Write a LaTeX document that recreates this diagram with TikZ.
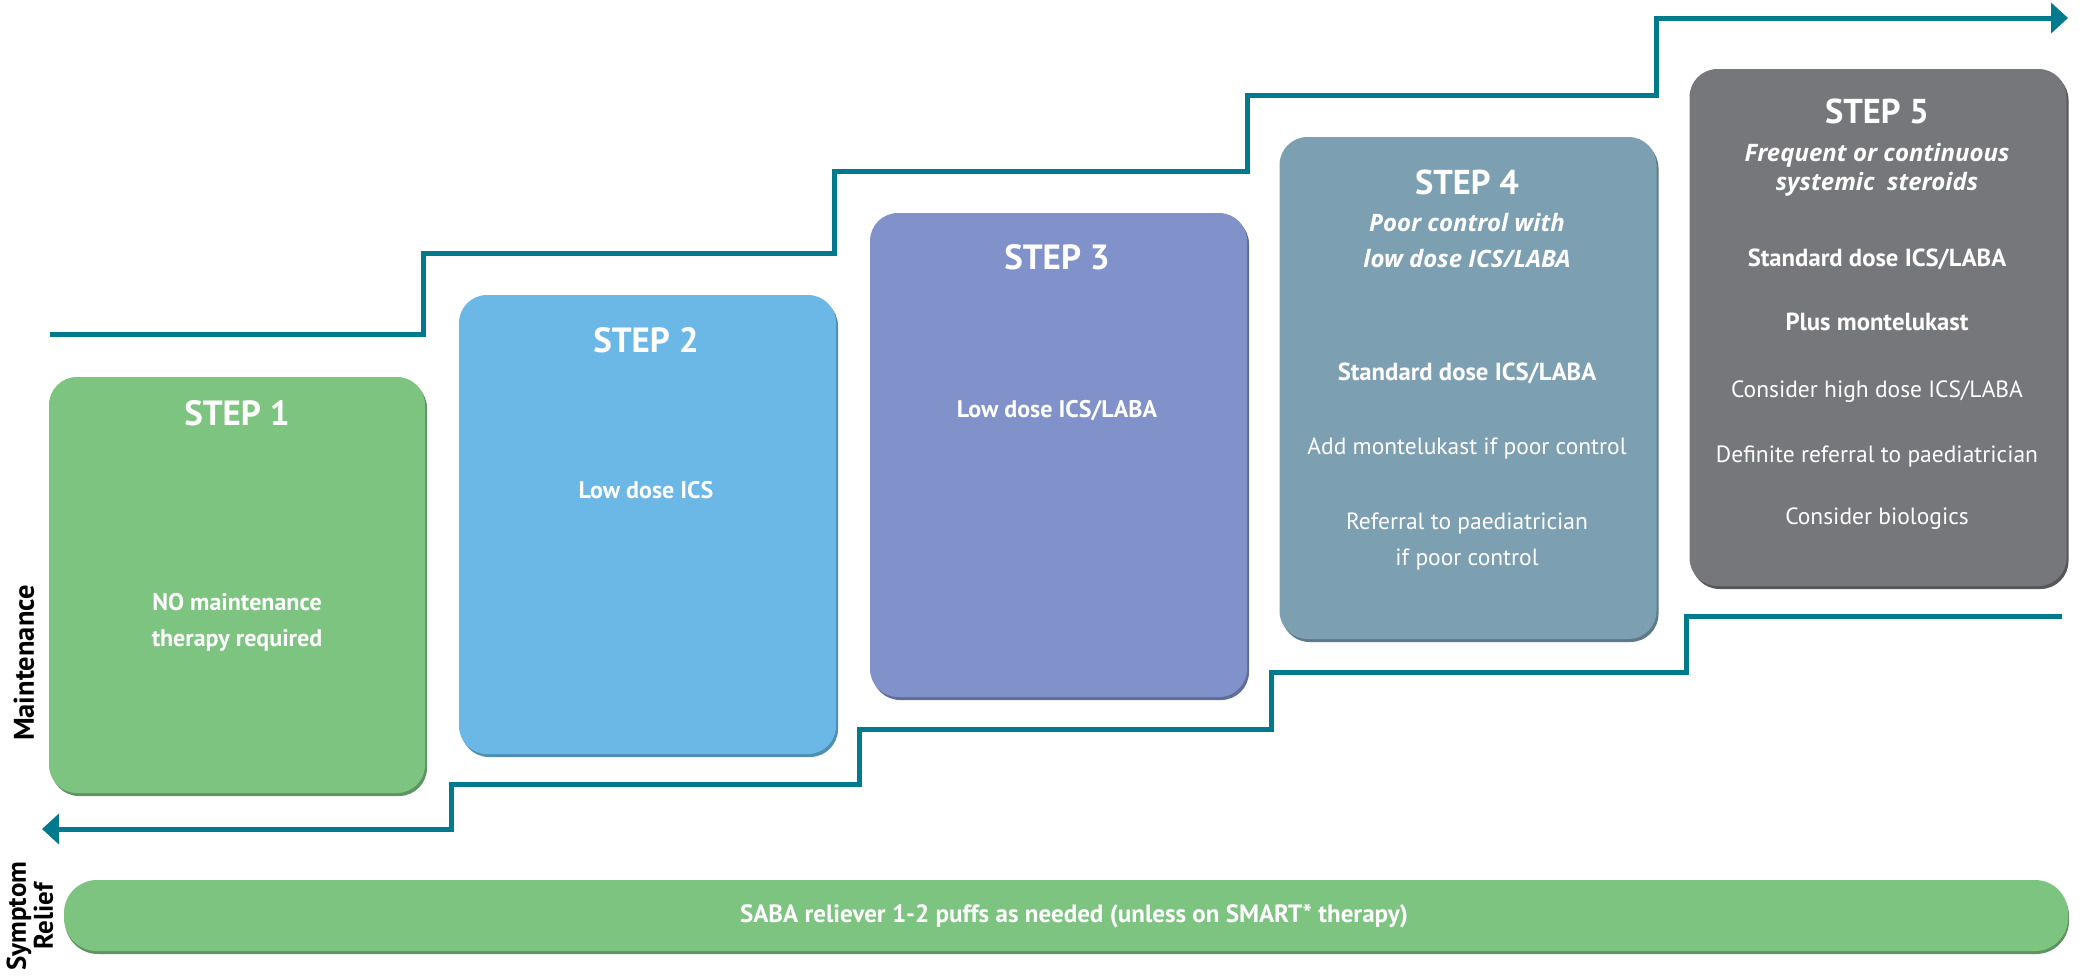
\documentclass[tikz,border=0pt]{standalone}
\usepackage{fontspec}
\setmainfont{PT Sans}
\newfontfamily\italfont{Open Sans}
\usetikzlibrary{shadows,arrows.meta}
\definecolor{cone}{HTML}{7DC481}
\definecolor{coned}{HTML}{5E9462}
\definecolor{ctwo}{HTML}{6BB7E6}
\definecolor{ctwod}{HTML}{4F8DB3}
\definecolor{cthree}{HTML}{8192CA}
\definecolor{cthreed}{HTML}{5F6C9C}
\definecolor{cfour}{HTML}{7CA0B2}
\definecolor{cfourd}{HTML}{5D7A89}
\definecolor{cfive}{HTML}{76777B}
\definecolor{cfived}{HTML}{56575A}
\definecolor{tealline}{HTML}{007A8C}
\newcommand{\fsz}[1]{\fontsize{#1}{#1}\selectfont}
\tikzset{
  stepbox/.style={rounded corners=28pt, inner sep=0pt, draw=none},
  steptitle/.style={anchor=base, text=white, font=\fsz{35}\bfseries},
  stepbold/.style={anchor=base, text=white, font=\fsz{24}\bfseries},
  ctitle/.style={anchor=base, text=white, font=\fsz{34.5}\bfseries},
  cital/.style={anchor=base, text=white, font=\italfont\fsz{24}\bfseries\itshape},
  cbold/.style={anchor=base, text=white, font=\fsz{24.7}\bfseries},
  creg/.style={anchor=base, text=white, font=\fsz{23.5}},
  stair/.style={draw=tealline, line width=5pt, line join=miter, -{Triangle[length=17pt,width=30pt]}},
  sidelabel/.style={rotate=90, font=\fsz{28.5}\bfseries, text=black, align=center, inner sep=0pt}
}
\begin{document}
\begin{tikzpicture}[x=1pt,y=-1pt]
\useasboundingbox (0,0) rectangle (2082,977);
% boxes
\node[stepbox, fill=cone, drop shadow={shadow xshift=2pt, shadow yshift=-3pt, fill=coned, opacity=1}, minimum width=376pt, minimum height=416pt] (s1) at (237,585) {};
\node[stepbox, fill=ctwo, drop shadow={shadow xshift=2pt, shadow yshift=-3pt, fill=ctwod, opacity=1}, minimum width=377pt, minimum height=459pt] (s2) at (647.5,524.5) {};
\node[stepbox, fill=cthree, drop shadow={shadow xshift=2pt, shadow yshift=-3pt, fill=cthreed, opacity=1}, minimum width=377pt, minimum height=484pt] (s3) at (1058.5,455) {};
\node[stepbox, fill=cfour, drop shadow={shadow xshift=2pt, shadow yshift=-3pt, fill=cfourd, opacity=1}, minimum width=377pt, minimum height=502pt] (s4) at (1468,388) {};
\node[stepbox, fill=cfive, drop shadow={shadow xshift=2pt, shadow yshift=-3pt, fill=cfived, opacity=1}, minimum width=377pt, minimum height=517pt] (s5) at (1878,327.5) {};
\node[stepbox, rounded corners=33pt, fill=cone, drop shadow={shadow xshift=1pt, shadow yshift=-3pt, fill=coned, opacity=1}, minimum width=2004pt, minimum height=71pt] (bar) at (1066,915.5) {};
% step 1
\node[steptitle] (t1a) at (237,425) {STEP 1};
\node[stepbold] (t1b) at (237,610) {NO maintenance};
\node[stepbold] (t1c) at (237,646) {therapy required};
% step 2
\node[steptitle] (t2a) at (646,352) {STEP 2};
\node[stepbold] (t2b) at (646,498) {Low dose ICS};
% step 3
\node[steptitle] (t3a) at (1057,269) {STEP 3};
\node[stepbold] (t3b) at (1057,417) {Low dose ICS/LABA};
% step 4
\node[ctitle] (t4a) at (1467,194) {STEP 4};
\node[cital] (t4b) at (1467,231) {Poor control with};
\node[cital] (t4c) at (1467,267) {low dose ICS/LABA};
\node[cbold] (t4d) at (1467,380) {Standard dose ICS/LABA};
\node[creg] (t4e) at (1467,454) {Add montelukast if poor control};
\node[creg] (t4f) at (1467,529) {Referral to paediatrician};
\node[creg] (t4g) at (1467,565) {if poor control};
% step 5
\node[ctitle] (t5a) at (1877,123) {STEP 5};
\node[cital] (t5b) at (1877,161) {Frequent or continuous};
\node[cital] (t5c) at (1877,190.5) {systemic\ \ steroids};
\node[cbold] (t5d) at (1877,266) {Standard dose ICS/LABA};
\node[cbold] (t5e) at (1877,330) {Plus montelukast};
\node[creg] (t5f) at (1877,397.5) {Consider high dose ICS/LABA};
\node[creg] (t5g) at (1877,462) {Definite referral to paediatrician};
\node[creg] (t5h) at (1877,524.5) {Consider biologics};
% bar text
\node[anchor=base, text=white, font=\fsz{25}\bfseries] (bart) at (1074,922) {SABA reliever 1-2 puffs as needed (unless on SMART* therapy)};
% side labels
\node[sidelabel] (lmaint) at (24,663) {Maintenance};
\node[sidelabel, font=\fontsize{27}{27}\selectfont\bfseries] (lrelief) at (30,916) {Symptom\\Relief};
% stair lines
\coordinate (a0) at (50,334);
\coordinate (a1) at (423,334);
\coordinate (a2) at (423,253);
\coordinate (a3) at (834,253);
\coordinate (a4) at (834,171);
\coordinate (a5) at (1247,171);
\coordinate (a6) at (1247,95);
\coordinate (a7) at (1656,95);
\coordinate (a8) at (1656,18);
\coordinate (a9) at (2068,18);
\draw[stair] (a0) -- (a1) -- (a2) -- (a3) -- (a4) -- (a5) -- (a6) -- (a7) -- (a8) -- (a9);
\coordinate (b0) at (2062,616);
\coordinate (b1) at (1686,616);
\coordinate (b2) at (1686,672);
\coordinate (b3) at (1271,672);
\coordinate (b4) at (1271,729);
\coordinate (b5) at (859,729);
\coordinate (b6) at (859,784);
\coordinate (b7) at (451,784);
\coordinate (b8) at (451,829);
\coordinate (b9) at (42,829);
\draw[stair] (b0) -- (b1) -- (b2) -- (b3) -- (b4) -- (b5) -- (b6) -- (b7) -- (b8) -- (b9);
\end{tikzpicture}
\end{document}
